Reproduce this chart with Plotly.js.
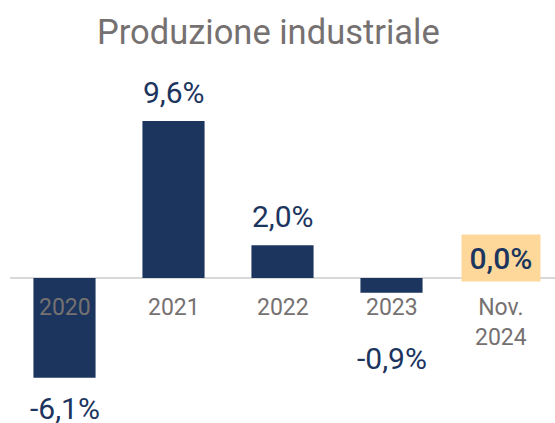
<!DOCTYPE html>
<html>
<head>
<meta charset="utf-8">
<script src="https://cdn.plot.ly/plotly-3.0.1.min.js"></script>
<style>html,body{margin:0;padding:0;background:#fff;}#chart{width:555px;height:423px;}</style>
</head>
<body>
<div id="chart"></div>
<script>
// Data
const categories = ["2020", "2021", "2022", "2023", "Nov.<br>2024"];
const values = [-6.1, 9.6, 2.0, -0.9, 0.0];
const valueLabels = ["-6,1%", "9,6%", "2,0%", "-0,9%", "0,0%"];
const titleText = "Produzione industriale";

const navy = "#1c355e";
const grey = "#767171";
const xs = categories.map((c, i) => i);

const trace = {
  type: "bar",
  x: xs,
  y: values,
  marker: {color: navy},
  hoverinfo: "skip"
};

const annotations = [];
// category labels
categories.forEach((c, i) => {
  annotations.push({
    x: i, y: 0, xref: "x", yref: "y",
    text: c, showarrow: false,
    yanchor: "top", xanchor: "center", yshift: -14,
    font: {family: "Roboto", size: 23, color: grey}
  });
});
// value labels
values.forEach((v, i) => {
  const a = {
    x: i, y: v, xref: "x", yref: "y",
    text: valueLabels[i], showarrow: false, xanchor: "center",
    font: {family: "Roboto", size: 30, color: navy}
  };
  if (v > 0) { a.yanchor = "bottom"; a.yshift = 9; }
  else if (v < 0) {
    a.yanchor = "top";
    a.yshift = (i === 3) ? -46 : -11;
  } else {
    a.yanchor = "middle"; a.yshift = 20;
    a.bgcolor = "#fdd89a"; a.borderpad = 0;
    a.width = 78; a.height = 46;
    a.font.weight = 500;
  }
  annotations.push(a);
});

const layout = {
  width: 555, height: 423,
  margin: {l: 10, r: 0, t: 70, b: 0},
  paper_bgcolor: "#ffffff", plot_bgcolor: "#ffffff",
  showlegend: false,
  bargap: 0.43,
  title: {
    text: titleText,
    font: {family: "Roboto", size: 34.5, color: grey},
    x: 0.474, xanchor: "center", xref: "paper",
    y: 0.925, yanchor: "middle", yref: "container"
  },
  xaxis: {
    range: [-0.5, 4.5], showticklabels: false, showgrid: false,
    zeroline: false, showline: false, ticks: "", fixedrange: true
  },
  yaxis: {
    range: [-8.87, 12.72], showticklabels: false, showgrid: false,
    zeroline: true, zerolinecolor: "#d9d9d9", zerolinewidth: 2,
    showline: false, ticks: "", fixedrange: true
  },
  annotations: annotations
};

Plotly.newPlot("chart", [trace], layout, {displayModeBar: false, staticPlot: true});
</script>
</body>
</html>
